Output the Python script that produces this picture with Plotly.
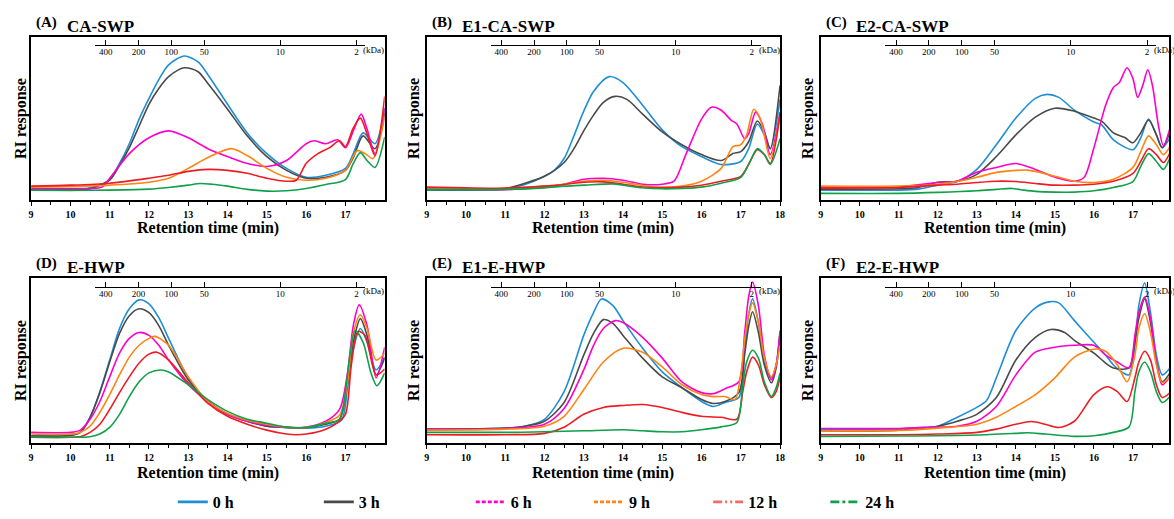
import plotly.graph_objects as go

W, H = 1174, 519
SERIF = '"Liberation Serif", "Times New Roman", Times, "DejaVu Serif", serif'

HOURS = ["0 h", "3 h", "6 h", "9 h", "12 h", "24 h"]
LINE_COLORS = ["#1E8FD5", "#4A4A4A", "#FF00CC", "#FF8412", "#ED1C24", "#0FA04A"]
LEGEND_COLORS = ["#1E8FD5", "#4A4A4A", "#FF00CC", "#FF8412", "#F36A6A", "#0FA04A"]
LEGEND_DASH = ["solid", "solid", "4px,2px", "4px,2px",
               "9px,3px,2px,3px,2px,3px", "9px,3px,3px,3px"]
KDA_TICKS = [400, 200, 100, 50, 10, 2]
MINUTES = list(range(9, 19))

# (retention time in min, RI response in a.u.) for each sampling time
# (A) CA-SWP
A_0H = [(9, 10.7), (10, 11), (10.5, 12.3), (11, 20.7), (11.25, 37), (11.5, 57), (11.75, 82),
        (12, 103), (12.25, 122), (12.5, 137), (12.9, 146), (13.25, 140), (13.5, 127), (14, 97),
        (14.5, 68), (15, 47), (15.5, 32), (16, 23), (16.5, 25), (17, 32), (17.2, 47),
        (17.45, 68), (17.75, 57), (18, 93)]
A_3H = [(9, 10), (10, 10.5), (10.5, 11.5), (11, 20), (11.25, 35), (11.5, 53), (11.75, 75),
        (12, 97), (12.25, 113), (12.5, 125), (12.9, 134), (13.25, 130), (13.5, 118), (14, 92),
        (14.5, 65), (15, 44), (15.5, 30), (16, 22), (16.5, 23), (17, 30), (17.2, 43),
        (17.45, 65), (17.75, 52), (18, 88)]
A_6H = [(9, 11.7), (10, 11.7), (10.5, 11.5), (10.8, 13), (11, 22), (11.5, 47), (12, 63),
        (12.5, 70), (13, 63), (13.5, 52), (14, 44), (14.5, 37), (15, 34), (15.5, 40), (16, 57),
        (16.2, 60), (16.5, 57), (16.8, 61), (17.0, 53), (17.2, 70), (17.4, 87), (17.55, 72),
        (17.75, 47), (18, 93)]
A_9H = [(9, 13), (10, 13.7), (11, 15), (12, 18), (12.5, 22), (13, 32), (13.5, 43), (14.1, 52),
        (14.5, 45), (15, 32), (15.5, 23), (16, 20), (16.5, 22), (17, 30), (17.3, 50),
        (17.5, 47), (17.7, 42), (18, 85)]
A_12H = [(9, 14), (10, 15), (11, 17), (12, 22), (12.5, 25), (13, 29), (13.5, 31), (14, 30),
         (14.5, 27), (15, 22), (15.5, 19), (15.75, 20), (16, 37), (16.3, 47), (16.6, 53),
         (16.85, 60), (17.0, 54), (17.2, 73), (17.38, 83), (17.55, 67), (17.75, 45), (18, 105)]
A_24H = [(9, 10), (10, 9.7), (11, 10), (12, 11), (12.5, 12.7), (13, 15), (13.3, 16.7),
         (13.6, 16), (14, 14), (14.5, 10.7), (15, 9), (15.5, 9.3), (16, 11.7), (16.5, 15.7),
         (17, 20.7), (17.2, 37), (17.38, 48), (17.55, 40), (17.75, 33), (18, 64)]

# (B) E1-CA-SWP
B_0H = [(9, 10), (10, 10), (11, 11), (11.5, 15.7), (12, 24), (12.25, 30), (12.5, 42),
        (12.75, 65), (13, 90), (13.25, 110), (13.65, 125), (14, 119), (14.5, 96), (15, 71),
        (15.5, 54), (16, 44), (16.5, 36), (17, 39), (17.2, 52), (17.42, 77), (17.6, 66),
        (17.75, 52), (18, 102)]
B_3H = [(9, 10.7), (11, 11.7), (11.5, 17), (12, 24), (12.5, 38), (12.75, 52), (13, 70),
        (13.25, 86), (13.5, 99), (13.8, 105), (14.1, 102), (14.5, 87), (15, 69), (15.5, 56),
        (16, 46), (16.5, 40), (16.8, 47), (17.0, 49), (17.2, 59), (17.42, 80), (17.6, 69),
        (17.75, 52), (18, 116)]
B_6H = [(9, 11), (10, 11), (11, 10.5), (11.5, 11.5), (12, 13), (12.5, 16), (13, 21),
        (13.5, 22), (14, 20), (14.5, 16), (15, 16), (15.3, 19), (15.6, 46), (16, 82),
        (16.25, 94), (16.5, 91), (16.75, 81), (16.9, 77), (17.1, 62), (17.2, 67), (17.38, 89),
        (17.55, 77), (17.75, 46), (18, 89)]
B_9H = [(9, 11.7), (11, 11.7), (12, 14), (12.5, 16), (13, 19), (13.5, 20), (14, 18),
        (14.5, 14.7), (15, 13), (15.5, 14), (16, 19), (16.5, 32), (16.8, 54), (17.0, 56),
        (17.15, 66), (17.33, 92), (17.5, 82), (17.75, 42), (18, 86)]
B_12H = [(9, 13), (10, 12.3), (11, 12), (12, 14), (12.5, 15.7), (13, 18), (13.5, 18.3),
         (14, 16), (14.5, 13), (15, 12.3), (15.5, 13), (16, 15), (16.5, 19), (17, 24),
         (17.2, 36), (17.42, 51), (17.6, 46), (17.75, 37), (18, 87)]
B_24H = [(9, 10.7), (11, 10.7), (12, 12.3), (12.5, 14), (13, 15), (13.75, 16.3), (14, 15),
         (14.5, 12.3), (15, 11.3), (15.5, 11.7), (16, 13), (16.5, 17), (17, 23), (17.2, 36),
         (17.42, 52), (17.6, 46), (17.75, 36), (18, 62)]

# (C) E2-CA-SWP
C_0H = [(9, 10), (10, 10), (11, 10), (11.5, 11), (12, 15), (12.5, 18.7), (13, 31), (13.5, 56),
        (14, 83), (14.5, 103), (14.8, 107), (15.1, 104), (15.5, 91), (16, 79), (16.2, 76),
        (16.5, 61), (17, 51), (17.2, 63), (17.4, 82), (17.6, 66), (17.75, 53), (17.95, 63)]
C_3H = [(9, 11), (11, 11.3), (11.5, 12.7), (12, 18), (12.5, 19), (13, 26), (13.5, 44),
        (14, 66), (14.5, 84), (15, 93), (15.5, 90), (16, 83), (16.2, 80), (16.5, 68),
        (16.8, 63), (17.0, 58), (17.2, 68), (17.4, 81), (17.6, 66), (17.75, 53), (17.95, 69)]
C_6H = [(9, 12.7), (11, 13.3), (12, 17.7), (12.5, 19), (13, 28), (13.5, 33), (14, 37),
        (14.5, 31), (15, 23), (15.5, 19), (15.75, 23), (16, 53), (16.3, 96), (16.5, 114),
        (16.65, 119), (16.85, 134), (17.0, 123), (17.12, 104), (17.25, 116), (17.38, 132),
        (17.5, 116), (17.65, 76), (17.78, 55), (17.95, 73)]
C_9H = [(9, 14), (11, 14), (12, 16), (12.5, 18.7), (13, 23), (13.5, 28), (14, 30), (14.3, 30.3),
        (14.5, 29), (15, 24), (15.5, 19), (16, 17.7), (16.5, 21), (17, 33), (17.2, 49),
        (17.4, 65), (17.6, 56), (17.78, 46), (17.95, 54)]
C_12H = [(9, 12), (11, 12.7), (12, 15), (12.5, 16), (13, 17.7), (13.5, 19), (14, 18.7),
         (14.5, 16.7), (15, 15), (15.5, 15), (16, 16), (16.5, 19), (17, 27), (17.2, 39),
         (17.4, 52), (17.6, 46), (17.78, 38), (17.95, 48)]
C_24H = [(9, 6.7), (11, 6.7), (12, 7.7), (13, 9.3), (13.5, 10.7), (13.9, 11.7), (14.2, 10),
         (14.5, 8.7), (15, 8), (15.5, 8), (16, 9.3), (16.5, 12.7), (17, 18.7), (17.2, 34),
         (17.4, 47), (17.6, 39), (17.78, 31), (17.95, 43)]

# (D) E-HWP
D_0H = [(9, 7.3), (10, 8), (10.25, 10.7), (10.5, 25.7), (10.75, 52), (11, 84), (11.25, 116),
        (11.5, 136), (11.75, 145), (12, 141), (12.25, 127), (12.5, 106), (13, 66), (13.5, 42),
        (14, 29), (14.5, 22), (15, 17), (15.5, 15.7), (16, 15), (16.5, 17), (16.9, 23),
        (17.05, 55), (17.2, 95), (17.38, 116), (17.55, 102), (17.78, 74), (18, 87)]
D_3H = [(9, 7), (10, 7.5), (10.25, 10.7), (10.5, 26), (10.75, 51), (11, 82), (11.25, 111),
        (11.5, 129), (11.75, 136), (12, 132), (12.25, 119), (12.5, 99), (13, 64), (13.5, 42),
        (14, 29), (14.5, 22), (15, 17), (15.5, 15.7), (16, 15.7), (16.5, 19), (16.85, 24),
        (17.05, 60), (17.2, 102), (17.38, 126), (17.55, 109), (17.78, 69), (18, 86)]
D_6H = [(9, 10.7), (10, 10.7), (10.25, 13), (10.5, 24), (10.75, 42), (11, 67), (11.25, 91),
        (11.5, 106), (11.75, 112), (12, 109), (12.25, 99), (12.5, 84), (13, 59), (13.5, 42),
        (14, 29), (14.5, 22), (15, 18), (15.5, 15.7), (16, 16), (16.5, 22), (16.85, 34),
        (17.05, 70), (17.2, 119), (17.35, 140), (17.55, 119), (17.78, 66), (18, 97)]
D_9H = [(9, 9), (10, 9), (10.25, 10.7), (10.5, 17), (10.75, 31), (11, 49), (11.25, 69),
        (11.5, 87), (11.75, 99), (12, 106), (12.15, 108), (12.5, 99), (13, 67), (13.5, 42),
        (14, 30), (14.5, 23), (15, 19), (15.5, 16), (16, 15.7), (16.5, 20.7), (16.85, 28),
        (17.05, 60), (17.2, 111), (17.38, 130), (17.55, 116), (17.78, 84), (18, 91)]
D_12H = [(9, 5.7), (10, 5.7), (10.25, 6.3), (10.5, 10.7), (10.75, 19), (11, 34), (11.25, 51),
         (11.5, 67), (11.75, 81), (12, 90), (12.2, 92), (12.5, 84), (13, 61), (13.5, 40),
         (14, 27), (14.5, 19), (15, 13), (15.5, 9), (15.75, 8.3), (16, 9), (16.5, 14),
         (16.8, 20.7), (17.0, 29), (17.15, 79), (17.32, 113), (17.5, 109), (17.78, 69), (18, 75)]
D_24H = [(9, 5.7), (10, 5.7), (10.5, 6.3), (10.75, 9), (11, 15.7), (11.25, 29), (11.5, 47),
         (11.75, 62), (12, 71), (12.3, 74), (12.5, 72), (13, 59), (13.5, 44), (14, 32),
         (14.5, 24), (15, 20), (15.5, 16), (16, 15.7), (16.5, 20), (16.85, 24), (17.0, 52),
         (17.1, 85), (17.25, 114), (17.45, 102), (17.65, 71), (17.8, 58), (18, 71)]

# (E) E1-E-HWP
E_0H = [(9, 14), (10, 14), (11, 15), (11.5, 17), (12, 24), (12.5, 52), (13, 109), (13.25, 132),
        (13.45, 146), (13.75, 139), (14, 124), (14.5, 96), (15, 72), (15.5, 56), (16, 42),
        (16.3, 37), (16.6, 41), (16.95, 46), (17.1, 95), (17.2, 130), (17.3, 146), (17.45, 122),
        (17.6, 82), (17.78, 66), (17.9, 79), (18, 112)]
E_3H = [(9, 14), (11, 15), (11.5, 17), (12, 22), (12.5, 41), (13, 89), (13.25, 111),
        (13.5, 125), (13.75, 121), (14, 109), (14.5, 86), (15, 67), (15.5, 56), (16, 44),
        (16.3, 40), (16.6, 42), (16.95, 51), (17.1, 90), (17.2, 118), (17.3, 133), (17.45, 112),
        (17.6, 79), (17.78, 61), (17.9, 76), (18, 111)]
E_6H = [(9, 14), (11, 14.7), (12, 19), (12.5, 35), (13, 74), (13.25, 99), (13.5, 116),
        (13.8, 124), (14, 122), (14.5, 107), (15, 86), (15.5, 62), (16, 51), (16.3, 50),
        (16.6, 55), (16.95, 62), (17.1, 112), (17.2, 148), (17.3, 163), (17.45, 139), (17.6, 89),
        (17.78, 64), (17.9, 79), (18, 114)]
E_9H = [(9, 13), (11, 14), (12, 17), (12.5, 27), (13, 54), (13.5, 82), (14, 96), (14.5, 92),
        (15, 77), (15.5, 59), (16, 49), (16.3, 47), (16.6, 47), (16.85, 44), (17.0, 70),
        (17.1, 105), (17.2, 130), (17.3, 142), (17.45, 122), (17.6, 86), (17.78, 67),
        (17.9, 79), (18, 99)]
E_12H = [(9, 8.3), (11, 8.3), (12, 9.7), (12.5, 16), (13, 29), (13.5, 36), (14, 38),
         (14.5, 39), (15, 36), (15.5, 31), (16, 27), (16.5, 26), (16.9, 24), (17.05, 52),
         (17.15, 72), (17.3, 87), (17.45, 79), (17.6, 59), (17.78, 46), (17.9, 52), (18, 67)]
E_24H = [(9, 10.7), (11, 10.7), (12, 11.3), (13, 12.3), (14, 13.3), (14.5, 12.3), (15, 11.3),
         (15.5, 11.3), (16, 13.3), (16.5, 16.3), (16.9, 20.7), (17.05, 59), (17.15, 82),
         (17.3, 94), (17.45, 86), (17.6, 62), (17.78, 47), (17.9, 56), (18, 71)]

# (F) E2-E-HWP
F_0H = [(9, 14), (11, 14), (11.5, 15.7), (12, 17), (12.5, 26), (13, 36), (13.25, 43),
        (13.5, 66), (14, 114), (14.5, 137), (14.85, 143), (15.1, 142), (15.5, 124), (16, 102),
        (16.3, 89), (16.5, 79), (16.75, 71), (16.9, 69), (17.05, 99), (17.15, 139), (17.3, 162),
        (17.45, 132), (17.6, 89), (17.75, 69), (17.95, 76)]
F_3H = [(9, 12.3), (11, 13), (12, 17), (12.5, 22), (13, 29), (13.5, 46), (14, 84), (14.5, 107),
        (14.9, 115), (15.25, 112), (15.5, 104), (16, 91), (16.3, 81), (16.5, 76), (16.9, 76),
        (17.05, 102), (17.15, 126), (17.3, 146), (17.45, 122), (17.6, 82), (17.75, 62),
        (17.95, 71)]
F_6H = [(9, 14.7), (11, 14.7), (12, 16), (12.5, 17), (13, 22), (13.5, 37), (14, 69),
        (14.5, 92), (15, 97), (15.5, 99), (16, 99), (16.3, 89), (16.6, 82), (16.9, 76),
        (17.05, 109), (17.15, 132), (17.3, 148), (17.45, 126), (17.6, 82), (17.75, 59),
        (17.95, 67)]
F_9H = [(9, 12.3), (11, 12.7), (12, 15), (13, 19), (13.5, 26), (14, 37), (14.5, 49), (15, 66),
        (15.5, 87), (16, 95), (16.3, 93), (16.6, 79), (16.85, 62), (17.05, 89), (17.15, 116),
        (17.3, 131), (17.45, 112), (17.6, 79), (17.75, 61), (17.95, 67)]
F_12H = [(9, 8.3), (11, 8.3), (12, 9), (13, 10.7), (13.5, 14), (14, 19), (14.4, 21.7),
         (14.75, 19), (15.1, 15.7), (15.5, 22), (16, 49), (16.35, 57), (16.6, 52), (16.85, 42),
         (17.05, 66), (17.15, 82), (17.3, 93), (17.45, 84), (17.6, 59), (17.75, 46), (17.95, 51)]
F_24H = [(9, 6.7), (11, 7), (12, 7.3), (13, 8), (14, 9.7), (14.3, 10.3), (14.75, 9),
         (15.5, 6.7), (16, 7.3), (16.5, 10.7), (16.9, 16.3), (17.05, 52), (17.15, 72),
         (17.3, 82), (17.45, 72), (17.6, 52), (17.75, 41), (17.95, 47)]

PANELS = [
    ("(A)", "CA-SWP", [A_0H, A_3H, A_6H, A_9H, A_12H, A_24H]),
    ("(B)", "E1-CA-SWP", [B_0H, B_3H, B_6H, B_9H, B_12H, B_24H]),
    ("(C)", "E2-CA-SWP", [C_0H, C_3H, C_6H, C_9H, C_12H, C_24H]),
    ("(D)", "E-HWP", [D_0H, D_3H, D_6H, D_9H, D_12H, D_24H]),
    ("(E)", "E1-E-HWP", [E_0H, E_3H, E_6H, E_9H, E_12H, E_24H]),
    ("(F)", "E2-E-HWP", [F_0H, F_3H, F_6H, F_9H, F_12H, F_24H]),
]

# panel frames in pixels; the third column runs off the right edge of the page
COL_PX = [(28.3, 384.3), (426.6, 782.4), (823.3, 1174.0)]
COL_PX_PER_MIN = [39.56, 39.53, 39.3]
ROW_PX = [(38.0, 202.7), (282.3, 449.0)]
ROW_KDA_PX = [45.7, 290.7]
ROW_XTITLE_PX = [231, 479]
# retention times of the 400 kDa and 2 kDa calibration marks per column
KDA_CAL = [(10.90, 17.28), (10.90, 17.28), (10.93, 17.36)]


def px_x(v):
    return v / W


def px_y(v):
    return 1 - v / H


fig = go.Figure()
layout = dict(
    width=W, height=H, margin=dict(l=0, r=0, t=0, b=0),
    paper_bgcolor="white", plot_bgcolor="rgba(0,0,0,0)",
    showlegend=True, annotations=[],
    font=dict(family=SERIF, color="black"),
)

for p, (tag, name, series) in enumerate(PANELS):
    row, col = divmod(p, 3)
    i = p + 1
    xs = "" if i == 1 else str(i)
    x0px, x1px = COL_PX[col]
    y0px, y1px = ROW_PX[row]
    t_end = 9 + (x1px - x0px) / COL_PX_PER_MIN[col]

    for k, pts in enumerate(series):
        fig.add_trace(go.Scatter(
            x=[t for t, _ in pts], y=[v for _, v in pts], mode="lines",
            line=dict(color=LINE_COLORS[k], width=1.6, shape="spline", smoothing=0.8),
            xaxis="x" + xs, yaxis="y" + xs, showlegend=False, hoverinfo="skip",
        ))

    layout["xaxis" + xs] = dict(
        domain=[px_x(x0px), px_x(x1px)], range=[9, t_end], anchor="y" + xs,
        showline=True, linecolor="black", linewidth=1.5, mirror=True,
        ticks="outside", ticklen=4, tickwidth=1, tickcolor="black",
        tickvals=MINUTES, ticktext=[str(m) for m in MINUTES],
        tickfont=dict(size=10, family=SERIF, color="black", weight="bold"),
        minor=dict(tickvals=[m + 0.5 for m in MINUTES[:-1]], ticks="outside",
                   ticklen=3, tickcolor="black"),
        showgrid=False, zeroline=False,
    )
    layout["yaxis" + xs] = dict(
        domain=[px_y(y1px), px_y(y0px)], range=[0, y1px - y0px], anchor="x" + xs,
        showline=True, linecolor="black", linewidth=1.5, mirror=True,
        ticks="", showticklabels=False, showgrid=False, zeroline=False,
    )

    # molecular-weight scale (log, decreasing with retention time)
    t400, t2 = KDA_CAL[col]
    dec_per_min = (2.60206 - 0.30103) / (t2 - t400)
    ta, tb = t400 - 0.27, t2 + 0.23
    to_px = lambda t: x0px + (t - 9) * COL_PX_PER_MIN[col]
    kx = "x" + str(6 + i)
    layout["xaxis" + str(6 + i)] = dict(
        type="log", autorange=False,
        range=[2.60206 + 0.27 * dec_per_min, 0.30103 - 0.23 * dec_per_min],
        domain=[px_x(to_px(ta)), px_x(min(to_px(tb), W))],
        anchor="free", position=px_y(ROW_KDA_PX[row]), side="bottom",
        showline=True, linecolor="black", linewidth=1,
        ticks="inside", ticklen=5, tickwidth=1, tickcolor="black",
        tickvals=KDA_TICKS, ticktext=[str(v) for v in KDA_TICKS],
        tickfont=dict(size=9, family=SERIF, color="black"),
        ticklabelstandoff=-2,
        showgrid=False, zeroline=False,
    )
    fig.add_trace(go.Scatter(x=[None], y=[None], xaxis=kx, yaxis="y" + xs,
                             showlegend=False, hoverinfo="skip"))

    ann = layout["annotations"]
    ann.append(dict(text="(kDa)",
                    x=px_x(to_px(t2) + 5), y=px_y(ROW_KDA_PX[row] + 4.5),
                    xref="paper", yref="paper", xanchor="left", yanchor="middle",
                    showarrow=False, font=dict(size=9, family=SERIF, color="black")))
    ann.append(dict(text="<b>" + tag + "</b>", x=px_x(x0px + 3), y=px_y(y0px - 15),
                    xref="paper", yref="paper", xanchor="left", yanchor="middle",
                    showarrow=False, font=dict(size=15, family=SERIF, color="black")))
    ann.append(dict(text="<b>" + name + "</b>", x=px_x(x0px + 34), y=px_y(y0px - 11),
                    xref="paper", yref="paper", xanchor="left", yanchor="middle",
                    showarrow=False, font=dict(size=17, family=SERIF, color="black")))
    ylab_x = 17.5 if col == 0 else x0px - 13.5
    ann.append(dict(text="<b>RI response</b>", x=px_x(ylab_x), y=px_y((y0px + y1px) / 2),
                    xref="paper", yref="paper", xanchor="center", yanchor="middle",
                    textangle=-90, showarrow=False,
                    font=dict(size=16, family=SERIF, color="black")))
    ann.append(dict(text="<b>Retention time (min)</b>",
                    x=px_x((x0px + min(x1px, x0px + 356)) / 2), y=px_y(ROW_XTITLE_PX[row]),
                    xref="paper", yref="paper", xanchor="center", yanchor="middle",
                    showarrow=False, font=dict(size=16, family=SERIF, color="black")))

# one legend per sampling time, laid out along the bottom
LEGEND_TEXT_PX = [213, 360, 513, 632, 752, 870]
for k, hour in enumerate(HOURS):
    lg = "legend" if k == 0 else "legend" + str(k + 1)
    fig.add_trace(go.Scatter(
        x=[None], y=[None], mode="lines", name="<b>" + hour + "</b>",
        line=dict(color=LEGEND_COLORS[k], width=2.6, dash=LEGEND_DASH[k]),
        legend=lg, showlegend=True, hoverinfo="skip",
    ))
    layout[lg] = dict(
        x=px_x(LEGEND_TEXT_PX[k] - 42), y=px_y(509), xanchor="left", yanchor="middle",
        orientation="h", bgcolor="rgba(0,0,0,0)", borderwidth=0,
        font=dict(size=16, family=SERIF, color="black"),
    )

fig.update_layout(**layout)
fig.write_html("out.html")
